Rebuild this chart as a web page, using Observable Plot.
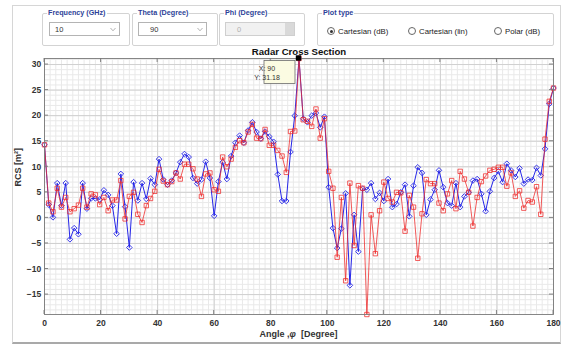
<!DOCTYPE html>
<html><head><meta charset="utf-8">
<script src="https://cdn.jsdelivr.net/npm/d3@7"></script>
<script src="https://cdn.jsdelivr.net/npm/@observablehq/plot@0.6"></script>
<style>
body{margin:0;background:#fff;font-family:"Liberation Sans",Arial,sans-serif;}
#app{position:relative;width:565px;height:344px;overflow:hidden;background:#fff;}
.frame{position:absolute;left:12px;top:5px;width:547px;height:336px;border:1px solid #d6d6d6;border-bottom:2px solid #a9a9a9;}
#chart{position:absolute;left:0;top:0;}
.group{position:absolute;top:13px;height:31px;border:1px solid #d3d3d3;border-radius:2px;}
.group .lbl{position:absolute;top:-6px;left:4px;background:#fff;padding:0 1px;font-size:7.2px;font-weight:bold;color:#2d3f97;line-height:10px;white-space:nowrap;}
.dd{position:absolute;top:8px;height:14px;border:1px solid #b4b4b4;background:#fff;font-size:7.5px;color:#333;line-height:14px;box-sizing:border-box;}
.dd svg{position:absolute;right:3px;top:4px;}
.dd.dis{background:#f1f1f1;border-color:#cfcfcf;color:#b0b0b0;}
.dd.dis .btn{position:absolute;right:0;top:0;width:9px;height:12px;background:#d9d9d9;}
.radio{position:absolute;top:13px;font-size:7.8px;color:#222;white-space:nowrap;line-height:10px;}
.radio i{display:inline-block;width:6px;height:6px;border:1px solid #666;border-radius:50%;vertical-align:-1px;margin-right:3px;position:relative;background:#fff;}
.radio i.on::after{content:"";position:absolute;left:1.5px;top:1.5px;width:3px;height:3px;border-radius:50%;background:#333;}
</style></head>
<body>
<div id="app">
  <div class="frame"></div>
  <div id="chart"></div>
  <div class="group" style="left:42px;width:86px"><span class="lbl">Frequency (GHz)</span>
    <div class="dd" style="left:6px;width:71px"><span style="padding-left:5px">10</span>
      <svg width="6" height="5"><polyline points="0.5,1 3,3.8 5.5,1" fill="none" stroke="#aaa" stroke-width="0.9"/></svg></div></div>
  <div class="group" style="left:132px;width:84px"><span class="lbl">Theta (Degree)</span>
    <div class="dd" style="left:5px;width:69px"><span style="padding-left:11px">90</span>
      <svg width="6" height="5"><polyline points="0.5,1 3,3.8 5.5,1" fill="none" stroke="#aaa" stroke-width="0.9"/></svg></div></div>
  <div class="group" style="left:219px;width:84px"><span class="lbl">Phi (Degree)</span>
    <div class="dd dis" style="left:5px;width:70px"><span style="padding-left:11px">0</span><span class="btn"></span></div></div>
  <div class="group" style="left:317px;width:235px"><span class="lbl">Plot type</span>
    <span class="radio" style="left:9px"><i class="on"></i>Cartesian (dB)</span>
    <span class="radio" style="left:90px"><i></i>Cartesian (lin)</span>
    <span class="radio" style="left:176px"><i></i>Polar (dB)</span>
  </div>
</div>
<script>
// ---- data ----
const angles = [0,1.5,3,4.5,6,7.5,9,10.5,12,13.5,15,16.5,18,19.5,21,22.5,24,25.5,27,28.5,30,31.5,33,34.5,36,37.5,39,40.5,42,43.5,45,46.5,48,49.5,51,52.5,54,55.5,57,58.5,60,61.5,63,64.5,66,67.5,69,70.5,72,73.5,75,76.5,78,79.5,81,82.5,84,85.5,87,88.5,90,91.5,93,94.5,96,97.5,99,100.5,102,103.5,105,106.5,108,109.5,111,112.5,114,115.5,117,118.5,120,121.5,123,124.5,126,127.5,129,130.5,132,133.5,135,136.5,138,139.5,141,142.5,144,145.5,147,148.5,150,151.5,153,154.5,156,157.5,159,160.5,162,163.5,165,166.5,168,169.5,171,172.5,174,175.5,177,178.5,180];
const rcsBlue = [14.3,2.6,0.1,6.8,2.4,6.8,-4.2,-2.0,-3.2,6.8,1.8,3.8,3.8,3.6,5.4,4.5,2.4,-3.1,8.6,2.2,-5.8,7.0,3.4,6.8,3.7,7.7,6.5,11.5,7.5,6.5,7.3,8.8,10.9,12.5,11.9,7.8,6.7,7.5,11.0,7.8,0.4,7.1,10.9,7.6,12.1,14.7,16.1,14.7,17.1,18.7,16.8,15.5,16.9,15.9,14.9,8.5,3.3,3.3,12.9,20.0,31.18,19.4,18.7,20.0,20.5,17.7,19.8,6.0,-2.0,-5.9,-2.1,4.8,-13.2,0.6,-6.6,5.7,5.5,6.8,3.7,4.9,3.3,7.6,2.1,2.7,5.0,6.5,0.3,6.3,9.9,8.8,0.6,3.6,5.5,9.3,6.0,2.9,2.4,6.8,2.1,4.2,5.0,7.3,7.6,4.7,1.3,5.2,7.8,9.1,7.0,10.6,9.3,8.0,9.7,6.7,7.5,7.4,9.8,8.3,13.5,22.3,25.4];
const rcsRed = [14.3,2.9,1.2,5.8,2.1,4.0,1.2,1.8,2.5,5.8,2.1,4.7,4.5,2.6,4.0,1.4,3.5,3.5,7.3,-0.2,4.2,5.0,0.7,-0.9,2.4,3.8,5.2,9.5,7.2,6.5,7.1,8.8,7.6,10.5,10.5,9.6,7.6,4.2,8.6,8.8,5.5,5.2,11.9,10.0,11.5,13.8,15.1,14.7,16.8,18.3,15.6,15.5,17.3,14.2,14.2,13.2,12.1,8.9,16.9,17.0,31.18,19.2,18.9,17.9,21.3,15.6,19.4,9.1,5.8,-7.7,4.0,-12.3,6.8,-5.4,6.3,5.8,-18.9,0.6,-7.0,1.4,7.0,3.8,3.1,5.0,4.9,-2.6,4.4,2.1,-7.9,0.8,7.5,6.7,6.7,2.9,1.4,4.7,7.3,1.8,9.1,7.6,5.0,-1.6,4.0,7.1,8.2,9.3,9.5,9.9,9.9,6.2,8.8,4.2,5.3,1.9,3.4,3.1,6.1,0.7,15.4,22.8,25.4];
const xTicks = [0,20,40,60,80,100,120,140,160,180];
const yTicks = [-15,-10,-5,0,5,10,15,20,25,30];
const datatipX = 90, datatipY = 31.18;
const title = "Radar Cross Section";
const yLabel = "RCS [m²]";

const blue = angles.map((a,i)=>({a, v: rcsBlue[i]}));
const red = angles.map((a,i)=>({a, v: rcsRed[i]}));
const yDom = d3.extent(rcsBlue.concat(rcsRed));

const cBlue = "#2626e8", cRed = "#ee2b2b";
const plot = Plot.plot({
  width:565, height:344, marginLeft:44, marginRight:12, marginTop:58, marginBottom:30,
  style:{background:"transparent", fontFamily:"Liberation Sans, Arial, sans-serif", fontSize:"8.5px", fontWeight:"bold", color:"#333", overflow:"visible"},
  x:{domain:[0,180], label:null},
  y:{domain:yDom, label:null},
  marks:[
    Plot.frame({fill:"#fff", stroke:null}),
    Plot.gridX(d3.range(0,181,2), {stroke:"#e9e9e9", strokeOpacity:1}),
    Plot.gridY(d3.range(-18,32,1), {stroke:"#e9e9e9", strokeOpacity:1}),
    Plot.gridX(xTicks, {stroke:"#d0d0d0", strokeOpacity:1}),
    Plot.gridY(yTicks, {stroke:"#d0d0d0", strokeOpacity:1}),
    Plot.axisX(xTicks, {tickSize:0, tickPadding:5.5, label:null}),
    Plot.axisY(yTicks, {tickSize:0, tickPadding:3.3, label:null}),
    Plot.line(blue, {x:"a", y:"v", stroke:cBlue, strokeWidth:1}),
    Plot.dot(blue, {x:"a", y:"v", symbol:"diamond2", r:2.5, stroke:cBlue, strokeWidth:0.9, fill:"none"}),
    Plot.line(red, {x:"a", y:"v", stroke:cRed, strokeWidth:1, strokeOpacity:0.78}),
    Plot.dot(red, {x:"a", y:"v", symbol:"square2", r:2.8, stroke:cRed, strokeWidth:0.9, fill:"none", strokeOpacity:0.85}),
    Plot.frame({stroke:"#7a7a7a", strokeWidth:0.9}),
    Plot.text([title], {frameAnchor:"top", dy:-6.5, lineAnchor:"middle", fontSize:9.6, fontWeight:"bold", fill:"#111"}),
    Plot.text([yLabel], {frameAnchor:"left", dx:-26, rotate:-90, fontSize:9, fontWeight:"bold", fill:"#333"})
  ]
});
document.getElementById("chart").appendChild(plot);

const sx = plot.scale("x"), sy = plot.scale("y");
const svg = d3.select(plot);
const [x0,x1] = sx.range, [y0,y1] = sy.range; // y0 bottom, y1 top
const tk = svg.append("g").attr("stroke","#7a7a7a").attr("stroke-width",0.9);
xTicks.forEach(t=>{
  const px = sx.apply(t);
  tk.append("line").attr("x1",px).attr("x2",px).attr("y1",y0).attr("y2",y0-4);
  tk.append("line").attr("x1",px).attr("x2",px).attr("y1",y1).attr("y2",y1+4);
});
yTicks.forEach(t=>{
  const py = sy.apply(t);
  tk.append("line").attr("y1",py).attr("y2",py).attr("x1",x0).attr("x2",x0+4);
  tk.append("line").attr("y1",py).attr("y2",py).attr("x1",x1).attr("x2",x1-4);
});
// x label with italic phi
const xl = svg.append("text").attr("x",(x0+x1)/2).attr("y",y0+23.3).attr("text-anchor","middle")
  .attr("font-size",9).attr("font-weight","bold").attr("fill","#333");
xl.append("tspan").text("Angle ,");
xl.append("tspan").attr("font-style","italic").text("φ");
xl.append("tspan").attr("xml:space","preserve").text("  [Degree]");
xl.attr("style","white-space:pre");

// datatip
const px = sx.apply(datatipX), py = sy.apply(datatipY);
const g = svg.append("g");
g.append("rect").attr("x",px-34.5).attr("y",py+2.5).attr("width",31).attr("height",23)
  .attr("fill","#fbfbe2").attr("stroke","#6b6b6b").attr("stroke-width",0.8);
g.append("text").attr("x",px-31.5).attr("y",py+13.3).attr("font-size",7).attr("font-weight","normal").attr("fill","#333").text("X: " + datatipX);
g.append("text").attr("x",px-31.5).attr("y",py+22.3).attr("font-size",7).attr("font-weight","normal").attr("fill","#333").text("Y: " + datatipY);
g.append("rect").attr("x",px-2.7).attr("y",py-2.7).attr("width",5.4).attr("height",5.4).attr("fill","#000");
</script>
</body></html>
